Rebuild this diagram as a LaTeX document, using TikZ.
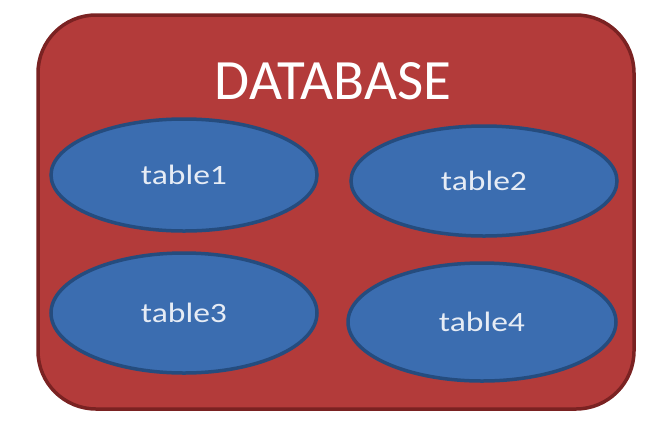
\documentclass[tikz,border=0pt]{standalone}
\usepackage{fontspec}
\setmainfont{Carlito}
\usetikzlibrary{shapes.geometric}
\definecolor{dbred}{HTML}{B33B3A}
\definecolor{dbredline}{HTML}{7A2222}
\definecolor{tblue}{HTML}{3B6DB0}
\definecolor{tblueline}{HTML}{254C7E}
\definecolor{tlabel}{HTML}{E6ECF5}
\tikzset{
  dbbox/.style={draw=dbredline, line width=3.5pt, fill=dbred, rounded corners=58pt},
  tbl/.style={ellipse, draw=tblueline, line width=3.5pt, fill=tblue, inner sep=0pt,
    text=tlabel, font=\fontsize{28}{32}\selectfont},
  title/.style={text=white, font=\fontsize{57}{62}\selectfont, inner sep=0pt}
}
\begin{document}
\begin{tikzpicture}[x=1pt,y=-1pt]
\useasboundingbox (0,0) rectangle (647,421);
\draw[dbbox] (38,15) rectangle (634,409);
\node[title] (db) at (333,81) {DATABASE};
\node[tbl, minimum width=266pt, minimum height=112pt] (t1) at (184,175) {\scalebox{1.2}[1]{table1}};
\node[tbl, minimum width=266pt, minimum height=110pt] (t2) at (484,181) {\scalebox{1.2}[1]{table2}};
\node[tbl, minimum width=266pt, minimum height=120pt] (t3) at (184,313) {\scalebox{1.2}[1]{table3}};
\node[tbl, minimum width=268pt, minimum height=118pt] (t4) at (482,322) {\scalebox{1.2}[1]{table4}};
\end{tikzpicture}
\end{document}
